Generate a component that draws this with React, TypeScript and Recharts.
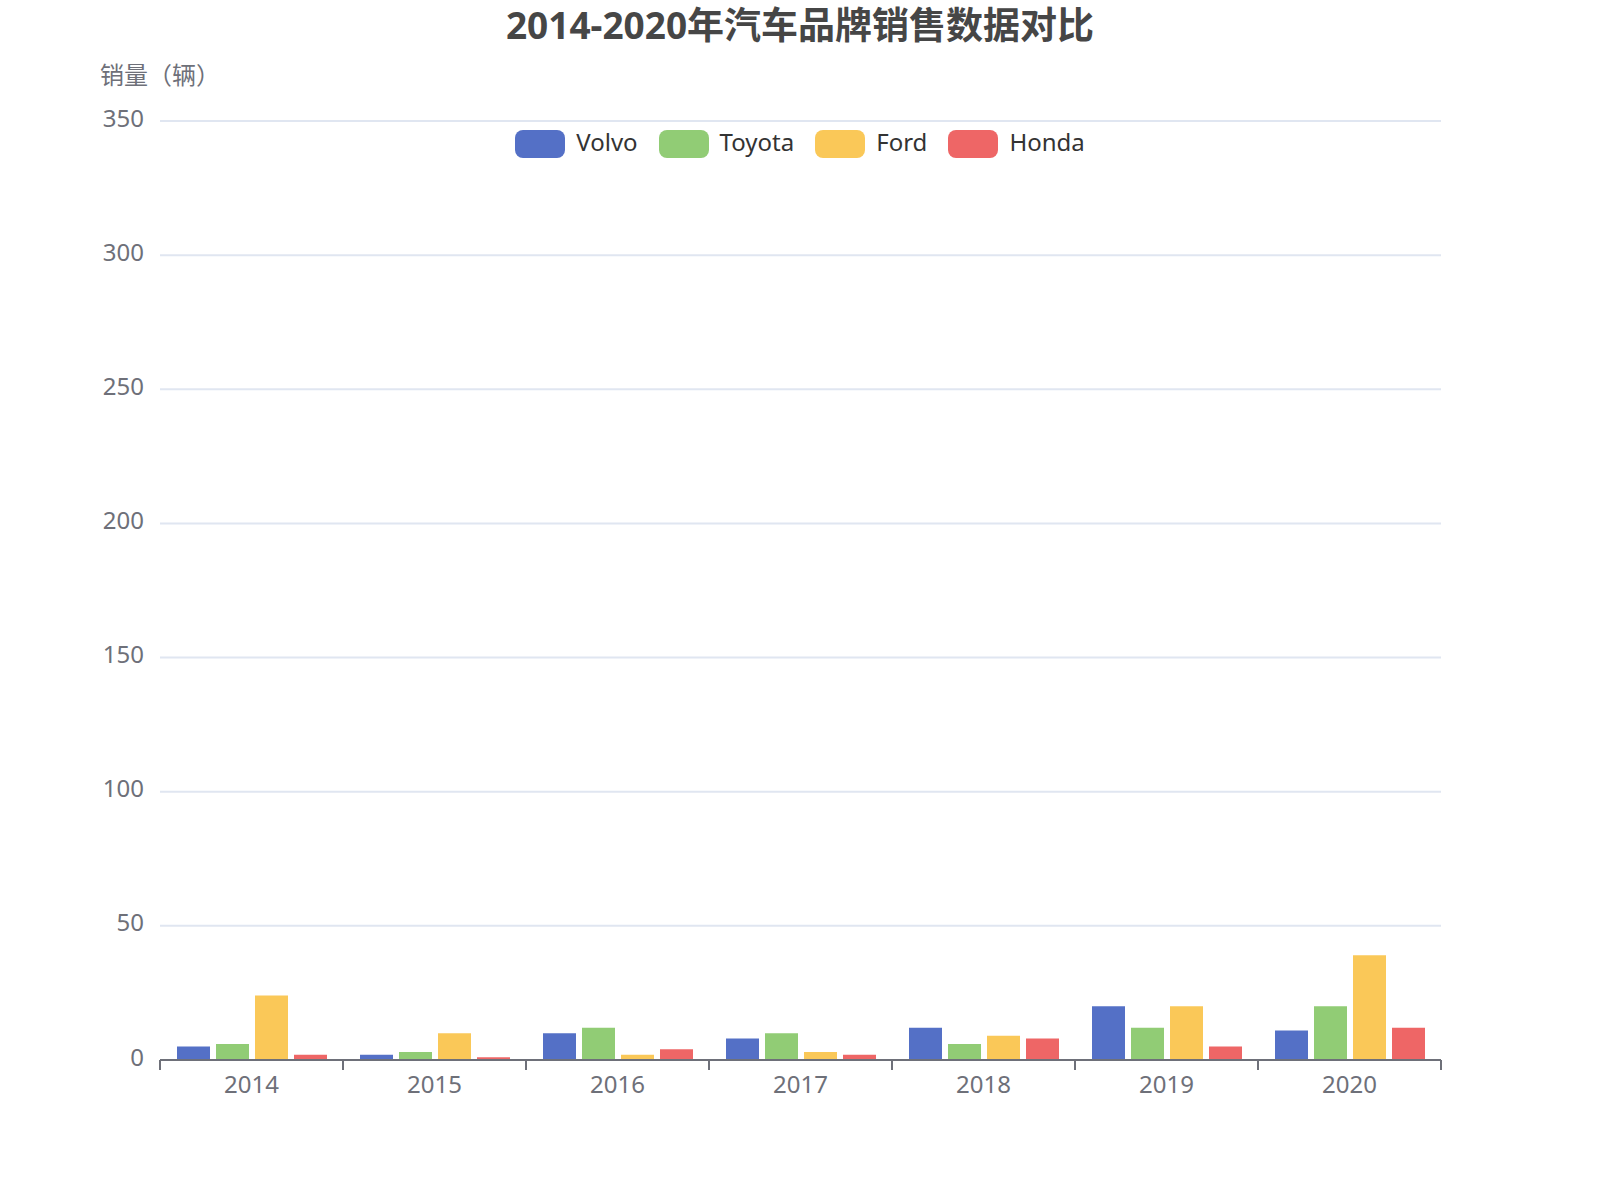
import { BarChart, Bar, XAxis, YAxis, CartesianGrid, Legend } from "recharts";

const years = ["2014", "2015", "2016", "2017", "2018", "2019", "2020"];
const volvo = [5, 2, 10, 8, 12, 20, 11];
const toyota = [6, 3, 12, 10, 6, 12, 20];
const ford = [24, 10, 2, 3, 9, 20, 39];
const honda = [2, 1, 4, 2, 8, 5, 12];
const yTicks = [0, 50, 100, 150, 200, 250, 300, 350];

const series = [
  { key: "Volvo", color: "#5470c6" },
  { key: "Toyota", color: "#91cc75" },
  { key: "Ford", color: "#fac858" },
  { key: "Honda", color: "#ee6666" },
];

const data = years.map((y, i) => ({
  year: y,
  Volvo: volvo[i],
  Toyota: toyota[i],
  Ford: ford[i],
  Honda: honda[i],
}));

const FONT = "'Noto Sans', 'Noto Sans CJK SC', sans-serif";
const AXIS = "#6E7079";

// label at the band centre, tick marks on the band edges (echarts boundaryGap look)
function YearTick(props: any) {
  const { x, y, payload, index } = props;
  const half = payload.offset ?? 0;
  return (
    <g>
      <line x1={x - half} x2={x - half} y1={y} y2={y + 10} stroke={AXIS} strokeWidth={2} />
      {index === years.length - 1 && (
        <line x1={x + half} x2={x + half} y1={y} y2={y + 10} stroke={AXIS} strokeWidth={2} />
      )}
      <text x={x} y={y + 23} textAnchor="middle" dominantBaseline="central" fill={AXIS} fontSize={24} fontFamily={FONT}>
        {payload.value}
      </text>
    </g>
  );
}

function LegendBox() {
  return (
    <div style={{ display: "flex", justifyContent: "center", alignItems: "center", height: 28, fontFamily: FONT }}>
      {series.map((s, i) => (
        <div key={s.key} style={{ display: "flex", alignItems: "center", marginLeft: i ? 21 : 0 }}>
          <span style={{ width: 50, height: 28, borderRadius: 8, background: s.color, display: "inline-block" }} />
          <span style={{ marginLeft: 11, fontSize: 24, color: "#333", position: "relative", top: -3 }}>{s.key}</span>
        </div>
      ))}
    </div>
  );
}

export default function App() {
  return (
    <div style={{ position: "absolute", left: 0, top: 0, width: 1600, height: 1200, background: "#fff" }}>
      <div
        style={{
          position: "absolute", left: 0, top: 2, width: 1600, textAlign: "center",
          fontFamily: FONT, fontWeight: 700, fontSize: 37, color: "#464646", lineHeight: "46px",
        }}
      >
        2014-2020年汽车品牌销售数据对比
      </div>
      <div
        style={{
          position: "absolute", left: 100, top: 60, fontFamily: FONT, fontSize: 24,
          color: AXIS, lineHeight: "30px",
        }}
      >
        销量（辆）
      </div>
      <BarChart
        width={1600}
        height={1200}
        data={data}
        margin={{ top: 121, right: 159, bottom: 100, left: 0 }}
        barCategoryGap={17}
        barGap={6}
      >
        <CartesianGrid horizontal vertical={false} stroke="#E0E6F1" strokeWidth={2} />
        <XAxis
          dataKey="year"
          height={40}
          interval={0}
          tickSize={0}
          tickMargin={0}
          tickLine={false}
          axisLine={{ stroke: AXIS, strokeWidth: 2 }}
          tick={<YearTick />}
        />
        <YAxis
          width={160}
          domain={[0, 350]}
          ticks={yTicks}
          interval={0}
          axisLine={false}
          tickLine={false}
          tickSize={0}
          tickMargin={16}
          tick={{ fill: AXIS, fontSize: 24, fontFamily: FONT, dy: -3 }}
        />
        <Legend
          layout="horizontal"
          align="center"
          verticalAlign="middle"
          wrapperStyle={{ top: 130, left: 0, width: 1600 }}
          content={<LegendBox />}
        />
        {series.map((s) => (
          <Bar key={s.key} dataKey={s.key} name={s.key} fill={s.color} isAnimationActive={false} />
        ))}
      </BarChart>
    </div>
  );
}
